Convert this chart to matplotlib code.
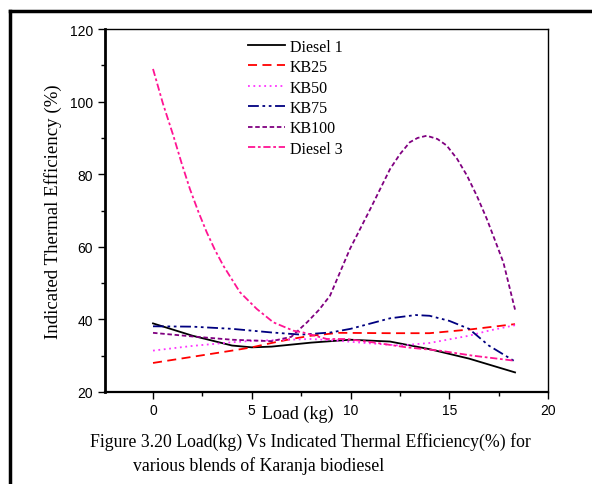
import matplotlib.pyplot as plt
from matplotlib.lines import Line2D
from matplotlib.ticker import MultipleLocator

# values
x_d1 = [0, 2, 4, 5, 6, 8, 10, 12, 14, 16, 18.33]
y_d1 = [38.9, 35.5, 32.8, 32.3, 32.5, 33.6, 34.4, 33.9, 31.8, 29.2, 25.4]

x_kb25 = [0, 2, 4, 5, 6, 7, 8, 9.4, 12, 14, 16, 18.33]
y_kb25 = [28.0, 29.7, 31.4, 32.3, 33.5, 34.6, 35.5, 36.3, 36.2, 36.2, 37.2, 38.7]

x_kb50 = [0, 2, 4, 5, 8, 9.4, 11, 12.5, 14, 16, 17, 18.33]
y_kb50 = [31.4, 32.7, 33.7, 34.1, 34.6, 34.1, 33.4, 32.8, 33.5, 35.5, 36.9, 38.4]

x_kb75 = [0, 2, 4, 6, 7.5, 9, 10, 12, 13.3, 14, 15, 16, 17, 18.33]
y_kb75 = [38.1, 38.0, 37.4, 36.4, 35.8, 36.4, 37.4, 40.3, 41.2, 41.0, 39.6, 37.4, 32.8, 28.4]

x_kb100 = [0, 2, 4, 6, 7, 7.8, 8.4, 8.96, 9.97, 11.0, 12.0, 12.5, 13.0, 13.4, 13.86,
           14.4, 14.87, 15.4, 15.9, 16.4, 16.9, 17.3, 17.74, 18.33]
y_kb100 = [36.3, 35.3, 34.4, 34.0, 35.2, 39.2, 42.6, 46.5, 59.4, 70.4, 81.4, 85.5, 88.8,
           90.0, 90.6, 89.7, 87.9, 84.2, 79.6, 74.0, 67.7, 62.0, 55.7, 42.7]

x_d3 = [0, 0.5, 1.03, 1.45, 1.87, 2.3, 2.72, 3.14, 3.56, 4.4, 5.25, 6.09, 7.1, 7.6, 8.8, 9.8, 11.1, 12.85, 14.5, 16.2, 18.33]
y_d3 = [109.0, 99.5, 90.6, 83.0, 75.9, 69.6, 64.0, 59.1, 54.8, 47.5, 42.9, 39.2, 36.9, 36.4, 34.6, 34.6, 33.7, 32.3, 31.4, 30.0, 28.6]

series = [
    ("Diesel 1", x_d1, y_d1, "black", "-"),
    ("KB25", x_kb25, y_kb25, "red", (0, (5, 3))),
    ("KB50", x_kb50, y_kb50, "#ff33ff", (0, (1, 2))),
    ("KB75", x_kb75, y_kb75, "#000080", (0, (6, 2, 1.5, 2, 1.5, 2))),
    ("KB100", x_kb100, y_kb100, "#800080", (0, (2.5, 1.5))),
    ("Diesel 3", x_d3, y_d3, "#ff1493", (0, (4, 1.5, 1.5, 1.5))),
]

serif = ["Liberation Serif", "DejaVu Serif"]
sans = ["Liberation Sans", "DejaVu Sans"]

fig = plt.figure(figsize=(5.92, 4.85), dpi=100)
ax = fig.add_axes([0.1774, 0.1897, 0.7483, 0.7484])

for name, xs, ys, col, ls in series:
    ax.plot(xs, ys, color=col, linestyle=ls, linewidth=1.3, label=name)

ax.set_xlim(-2.43, 20)
ax.set_ylim(20, 120)
ax.xaxis.set_major_locator(MultipleLocator(5))
ax.xaxis.set_minor_locator(MultipleLocator(2.5))
ax.yaxis.set_major_locator(MultipleLocator(20))
ax.yaxis.set_minor_locator(MultipleLocator(10))
ax.tick_params(which="major", direction="out", length=5, width=1, labelsize=10)
ax.tick_params(which="minor", direction="out", length=3, width=1)
for lab in ax.get_xticklabels() + ax.get_yticklabels():
    lab.set_family(sans)
ax.tick_params(axis="x", pad=3)

ax.spines["left"].set_linewidth(2)
ax.spines["bottom"].set_linewidth(1.6)
ax.spines["top"].set_linewidth(1)
ax.spines["right"].set_linewidth(1)

ax.set_xlabel("Load (kg)", family=serif, fontsize=13)
ax.xaxis.set_label_coords(0.436, -0.06)
ax.xaxis.label.set_va("center")
ax.set_ylabel("Indicated Thermal Efficiency (%)", family=serif, fontsize=13.6, labelpad=6)

leg = ax.legend(loc="upper left", bbox_to_anchor=(0.3, 1.0), frameon=False,
                prop={"family": serif, "size": 11.5}, handlelength=2.35,
                handletextpad=0.3, labelspacing=0.28, borderaxespad=0.2)

fig.text(0.152, 0.088, "Figure 3.20 Load(kg) Vs Indicated Thermal Efficiency(%) for",
         family=serif, fontsize=12.8, va="center", ha="left")
fig.text(0.225, 0.040, "various blends of Karanja biodiesel",
         family=serif, fontsize=12.8, va="center", ha="left")

# outer frame lines of the scanned page
fig.add_artist(Line2D([10 / 592, 1], [1 - 12 / 485, 1 - 12 / 485], color="black",
                      linewidth=2.5, transform=fig.transFigure))
fig.add_artist(Line2D([10 / 592, 10 / 592], [0, 1 - 12 / 485], color="black",
                      linewidth=2.5, transform=fig.transFigure))

fig.savefig("out.png", dpi=100)
